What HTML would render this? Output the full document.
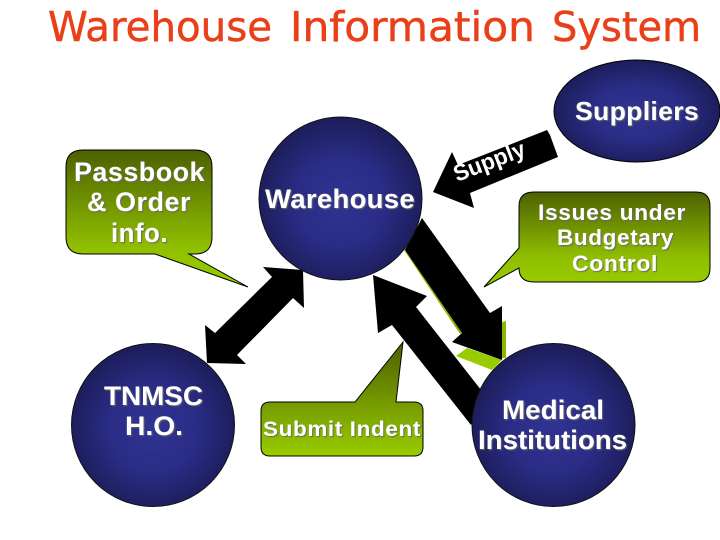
<!DOCTYPE html>
<html><head><meta charset="utf-8"><style>
html,body{margin:0;padding:0;background:#fff}
svg{display:block}
</style></head><body>
<svg width="720" height="540" viewBox="0 0 720 540" xmlns="http://www.w3.org/2000/svg">
<defs>
<radialGradient id="b" cx=".5" cy=".52" r=".5"><stop offset="0" stop-color="#303392"/><stop offset=".55" stop-color="#2a2c85"/><stop offset="1" stop-color="#1d1e5c"/></radialGradient>
<linearGradient id="g2" gradientUnits="userSpaceOnUse" x1="0" y1="150" x2="0" y2="287"><stop offset="0" stop-color="#4c6000"/><stop offset=".72" stop-color="#90c000"/><stop offset="1" stop-color="#99cc00"/></linearGradient>
<linearGradient id="g3" gradientUnits="userSpaceOnUse" x1="0" y1="192" x2="0" y2="287"><stop offset="0" stop-color="#4c6000"/><stop offset=".7" stop-color="#90c000"/><stop offset="1" stop-color="#99cc00"/></linearGradient>
<linearGradient id="g4" gradientUnits="userSpaceOnUse" x1="0" y1="342" x2="0" y2="456"><stop offset="0" stop-color="#4c6000"/><stop offset="1" stop-color="#99cc00"/></linearGradient>
<filter id="s" x="-10%" y="-20%" width="120%" height="140%"><feDropShadow dx="1" dy="1" stdDeviation=".5" flood-color="#666" flood-opacity="1"/></filter>
</defs>

<g font-family="'DejaVu Sans',sans-serif" font-size="41" fill="#e9401a" stroke="#e9401a" stroke-width=".5">
<text x="48" y="41" textLength="224" lengthAdjust="spacingAndGlyphs">Warehouse</text>
<text x="290" y="41" textLength="245" lengthAdjust="spacingAndGlyphs">Information</text>
<text x="552" y="41" textLength="149" lengthAdjust="spacingAndGlyphs">System</text>
</g>

<!-- green arrow shadow -->
<polygon points="404,250 408,247 463,332 460,334" fill="#8db600"/>
<polygon points="456,356 467,348 502,360 492,370" fill="#99cc00"/>
<polygon points="502,322 506,321 506,358 501,358" fill="#8db600"/>

<!-- arrows -->
<polygon points="263,267 303,270 304,308 293,298 237,355 246,364 207,363 205,325 215,333 272,277" fill="#000"/>
<polygon points="422,218 490,313 502,306 502,360 452,342 462,333 405,250" fill="#000"/>
<polygon points="373,275 427,296 416,307 485,395 471,425 392,325 378,333" fill="#000"/>
<polygon points="433,192 452,152 458,165 547,130 550,135 558,157 470,193 474,208" fill="#000"/>

<!-- circles -->
<ellipse cx="637" cy="111" rx="83" ry="51" fill="url(#b)" stroke="#000" stroke-width="1"/>
<circle cx="340.5" cy="198.5" r="81.5" fill="url(#b)" stroke="#111" stroke-width="1"/>
<circle cx="153" cy="425" r="81.5" fill="url(#b)" stroke="#111" stroke-width="1"/>
<circle cx="553.5" cy="425" r="81.5" fill="url(#b)" stroke="#111" stroke-width="1"/>

<!-- callouts -->
<path d="M83 150H195Q212 150 212 167V237Q212 254 195 254H189L248 287L155 254H83Q66 254 66 237V167Q66 150 83 150Z" fill="url(#g2)" stroke="#000" stroke-width="1"/>
<path d="M534 192H696Q710 192 710 206V268Q710 282 696 282H534Q519 282 519 268L484 287L519 248V206Q519 192 534 192Z" fill="url(#g3)" stroke="#000" stroke-width="1"/>
<path d="M270 402H355L403 342L396 402H414Q423 402 423 411V447Q423 456 414 456H270Q261 456 261 447V411Q261 402 270 402Z" fill="url(#g4)" stroke="#000" stroke-width="1"/>

<!-- labels -->
<g font-family="'Liberation Sans',Arial,sans-serif" font-weight="700" fill="#fff" filter="url(#s)">
<text x="575" y="120" font-size="26" letter-spacing=".3" textLength="124" lengthAdjust="spacingAndGlyphs">Suppliers</text>
<text x="265" y="208" font-size="27" letter-spacing=".3" textLength="150" lengthAdjust="spacingAndGlyphs">Warehouse</text>
<text x="74" y="181" font-size="27" letter-spacing=".5" textLength="131" lengthAdjust="spacingAndGlyphs">Passbook</text>
<text x="87" y="211" font-size="27" letter-spacing=".5" textLength="104" lengthAdjust="spacingAndGlyphs">&amp; Order</text>
<text x="111" y="242" font-size="27" letter-spacing=".5" textLength="57" lengthAdjust="spacingAndGlyphs">info.</text>
<text x="104" y="405" font-size="26.5" textLength="99" lengthAdjust="spacingAndGlyphs">TNMSC</text>
<text x="125" y="435" font-size="26.5" textLength="58" lengthAdjust="spacingAndGlyphs">H.O.</text>
<text x="538" y="220" font-size="22" letter-spacing=".6" textLength="148" lengthAdjust="spacingAndGlyphs">Issues under</text>
<text x="557" y="245" font-size="22" letter-spacing=".6" textLength="117" lengthAdjust="spacingAndGlyphs">Budgetary</text>
<text x="572" y="271" font-size="22" letter-spacing=".6" textLength="86" lengthAdjust="spacingAndGlyphs">Control</text>
<text x="263" y="436" font-size="21" letter-spacing=".6" textLength="158" lengthAdjust="spacingAndGlyphs">Submit Indent</text>
<text x="502" y="419" font-size="27" textLength="102" lengthAdjust="spacingAndGlyphs">Medical</text>
<text x="478" y="449" font-size="27" textLength="149" lengthAdjust="spacingAndGlyphs">Institutions</text>
</g>
<text transform="translate(457 182) rotate(-21)" font-family="'Liberation Sans',Arial,sans-serif" font-weight="700" fill="#fff" font-size="23" textLength="75" lengthAdjust="spacingAndGlyphs">Supply</text>
</svg>
</body></html>
